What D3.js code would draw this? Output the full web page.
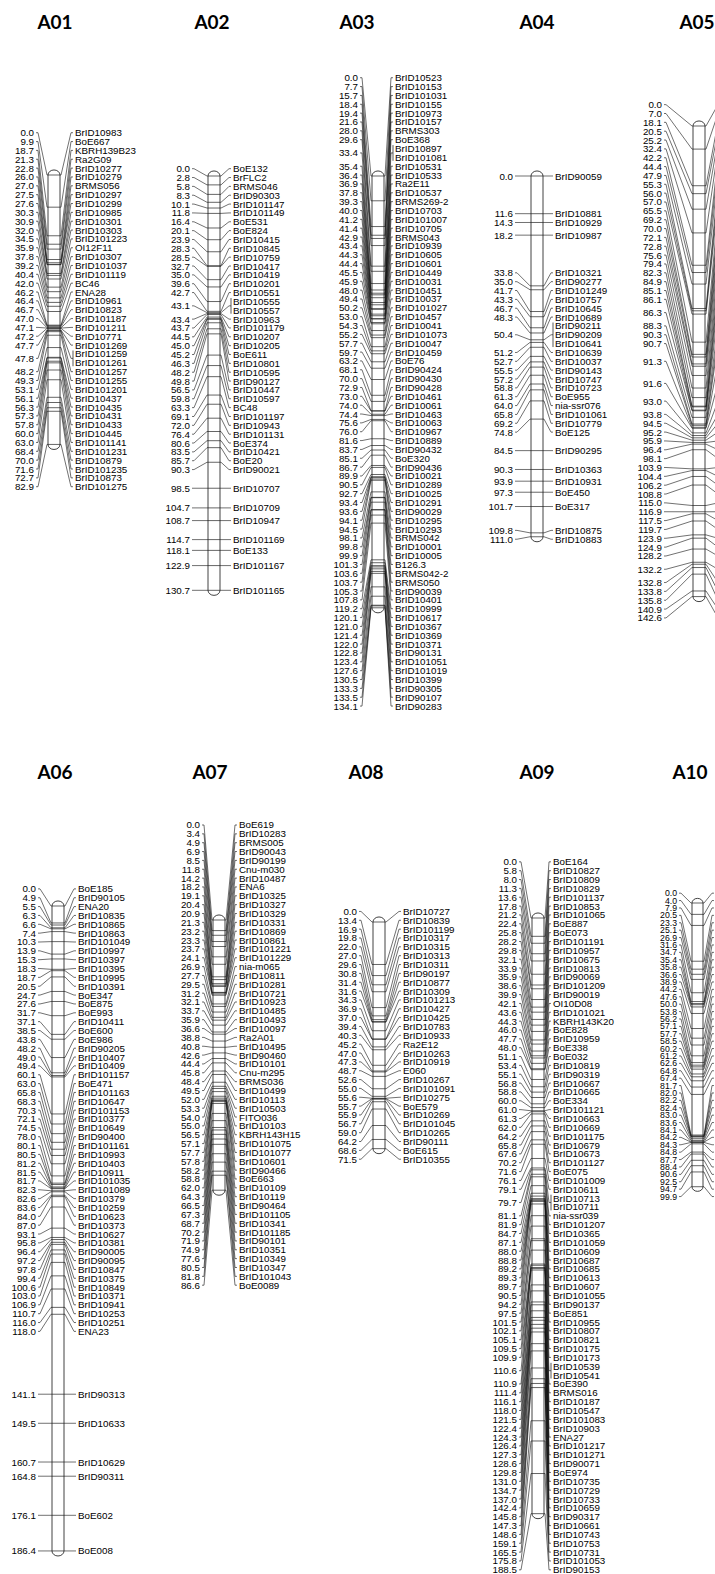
<!DOCTYPE html>
<html>
<head>
<meta charset="utf-8">
<script src="https://cdn.jsdelivr.net/npm/d3@7"></script>
<style>
  body { margin: 0; background: #fff; }
  svg { display: block; }
  text { font-family: "Liberation Sans", Arial, sans-serif; fill: #000; }
  text.title { font-family: Lato, "Open Sans", sans-serif; font-weight: 700; font-size: 19px; fill: #000; }
</style>
</head>
<body>
<svg id="chart" width="715" height="1574"></svg>
<script>
// Linkage map, groups A01-A10. Positions in cM; a repeated position = co-located markers.
const posA01 = [0.0, 9.9, 18.7, 21.3, 22.8, 26.0, 27.0, 27.5, 27.6, 30.3, 30.9, 32.0, 34.5, 35.9, 37.8, 39.2, 40.4, 42.0, 46.2, 46.4, 46.7, 47.0, 47.1, 47.2, 47.7, 47.8, 47.8, 48.2, 49.3, 53.1, 56.1, 56.3, 57.3, 57.8, 60.0, 63.0, 68.4, 70.0, 71.6, 72.7, 82.9];
const mkA01 = ["BrID10983", "BoE667", "KBRH139B23", "Ra2G09", "BrID10277", "BrID10279", "BRMS056", "BrID10297", "BrID10299", "BrID10985", "BrID10301", "BrID10303", "BrID101223", "OI12F11", "BrID10307", "BrID101037", "BrID101119", "BC46", "ENA28", "BrID10961", "BrID10823", "BrID101187", "BrID101211", "BrID10771", "BrID101269", "BrID101259", "BrID101261", "BrID101257", "BrID101255", "BrID101201", "BrID10437", "BrID10435", "BrID10431", "BrID10433", "BrID10445", "BrID101141", "BrID101231", "BrID10879", "BrID101235", "BrID10873", "BrID101275"];

const posA02 = [0.0, 2.8, 5.8, 8.3, 10.1, 11.8, 16.4, 20.1, 23.9, 28.3, 28.5, 32.7, 35.0, 39.6, 42.7, 43.1, 43.1, 43.4, 43.7, 44.5, 45.0, 45.2, 46.3, 48.2, 49.8, 56.5, 59.8, 63.3, 69.1, 72.0, 76.4, 80.6, 83.5, 85.7, 90.3, 98.5, 104.7, 108.7, 114.7, 118.1, 122.9, 130.7];
const mkA02 = ["BoE132", "BrFLC2", "BRMS046", "BrID90303", "BrID101147", "BrID101149", "BoE531", "BoE824", "BrID10415", "BrID10845", "BrID10759", "BrID10417", "BrID10419", "BrID10201", "BrID10551", "BrID10555", "BrID10557", "BrID10963", "BrID101179", "BrID10207", "BrID10205", "BoE611", "BrID10801", "BrID10595", "BrID90127", "BrID10447", "BrID10597", "BC48", "BrID101197", "BrID10943", "BrID101131", "BoE374", "BrID10421", "BoE20", "BrID90021", "BrID10707", "BrID10709", "BrID10947", "BrID101169", "BoE133", "BrID101167", "BrID101165"];

const posA03 = [0.0, 7.7, 15.7, 18.4, 19.4, 21.6, 28.0, 29.6, 33.4, 33.4, 35.4, 36.4, 36.9, 37.8, 39.3, 40.0, 41.2, 41.4, 42.9, 43.4, 44.3, 44.4, 45.5, 45.9, 48.0, 49.4, 50.2, 53.0, 54.3, 55.2, 57.7, 59.7, 63.2, 68.1, 70.0, 72.9, 73.0, 74.0, 74.4, 75.6, 76.0, 81.6, 83.7, 85.1, 86.7, 89.9, 90.5, 92.7, 93.4, 93.6, 94.1, 94.5, 98.1, 99.8, 99.9, 101.3, 103.6, 103.7, 105.3, 107.8, 119.2, 120.1, 121.0, 121.4, 122.0, 122.8, 123.4, 127.6, 130.5, 133.3, 133.5, 134.1];
const mkA03 = ["BrID10523", "BrID10153", "BrID101031", "BrID10155", "BrID10973", "BrID10157", "BRMS303", "BoE368", "BrID10897", "BrID101081", "BrID10531", "BrID10533", "Ra2E11", "BrID10537", "BRMS269-2", "BrID10703", "BrID101007", "BrID10705", "BRMS043", "BrID10939", "BrID10605", "BrID10601", "BrID10449", "BrID10031", "BrID10451", "BrID10037", "BrID101027", "BrID10457", "BrID10041", "BrID101073", "BrID10047", "BrID10459", "BoE76", "BrID90424", "BrID90430", "BrID90428", "BrID10461", "BrID10061", "BrID10463", "BrID10063", "BrID10967", "BrID10889", "BrID90432", "BoE320", "BrID90436", "BrID10021", "BrID10289", "BrID10025", "BrID10291", "BrID90029", "BrID10295", "BrID10293", "BRMS042", "BrID10001", "BrID10005", "B126.3", "BRMS042-2", "BRMS050", "BrID90039", "BrID10401", "BrID10999", "BrID10617", "BrID10367", "BrID10369", "BrID10371", "BrID90131", "BrID101051", "BrID101019", "BrID10399", "BrID90305", "BrID90107", "BrID90283"];

const posA04 = [0.0, 11.6, 14.3, 18.2, 33.8, 35.0, 41.7, 43.3, 46.7, 48.3, 50.4, 50.4, 50.4, 51.2, 52.7, 55.5, 57.2, 58.8, 61.3, 64.0, 65.8, 69.2, 74.8, 84.5, 90.3, 93.9, 97.3, 101.7, 109.8, 111.0];
const mkA04 = ["BrID90059", "BrID10881", "BrID10929", "BrID10987", "BrID10321", "BrID90277", "BrID101249", "BrID10757", "BrID10645", "BrID10689", "BrID90211", "BrID90209", "BrID10641", "BrID10639", "BrID10037", "BrID90143", "BrID10747", "BrID10723", "BoE955", "nia-ssr076", "BrID101061", "BrID10779", "BoE125", "BrID90295", "BrID10363", "BrID10931", "BoE450", "BoE317", "BrID10875", "BrID10883"];

// A05 and A10 marker names fall outside the picture
const posA05 = [0.0, 7.0, 18.1, 20.5, 25.2, 32.4, 42.2, 44.4, 47.9, 55.3, 56.0, 57.0, 65.5, 69.2, 70.0, 72.1, 72.8, 75.6, 79.4, 82.3, 84.9, 85.1, 86.1, 86.3, 86.3, 88.3, 90.3, 90.7, 91.3, 91.3, 91.3, 91.6, 91.6, 93.0, 93.0, 93.8, 94.5, 95.2, 95.9, 96.4, 98.1, 103.9, 104.4, 106.2, 108.8, 115.0, 116.9, 117.5, 119.7, 123.9, 124.9, 128.2, 132.2, 132.2, 132.8, 133.8, 135.8, 140.9, 142.6];

const posA06 = [0.0, 4.9, 5.5, 6.3, 6.6, 7.4, 10.3, 13.9, 15.3, 18.3, 18.7, 20.5, 24.7, 27.6, 31.7, 37.1, 38.5, 43.8, 48.2, 49.0, 49.4, 60.1, 63.0, 65.8, 68.3, 70.3, 72.1, 74.5, 78.0, 80.1, 80.5, 81.2, 81.5, 81.7, 82.3, 82.6, 83.6, 84.0, 87.0, 93.1, 95.8, 96.4, 97.2, 97.8, 99.4, 100.6, 103.0, 106.9, 110.7, 116.0, 118.0, 141.1, 149.5, 160.7, 164.8, 176.1, 186.4];
const mkA06 = ["BoE185", "BrID90105", "ENA20", "BrID10835", "BrID10865", "BrID10863", "BrID101049", "BrID10997", "BrID10397", "BrID10395", "BrID10995", "BrID10391", "BoE347", "BoE875", "BoE993", "BrID10411", "BoE600", "BoE986", "BrID90205", "BrID10407", "BrID10409", "BrID101157", "BoE471", "BrID101163", "BrID10647", "BrID101153", "BrID10377", "BrID10649", "BrID90400", "BrID101161", "BrID10993", "BrID10403", "BrID10911", "BrID101035", "BrID101089", "BrID10379", "BrID10259", "BrID10623", "BrID10373", "BrID10627", "BrID10381", "BrID90005", "BrID90095", "BrID10847", "BrID10375", "BrID10849", "BrID10371", "BrID10941", "BrID10253", "BrID10251", "ENA23", "BrID90313", "BrID10633", "BrID10629", "BrID90311", "BoE602", "BoE008"];

const posA07 = [0.0, 3.4, 4.9, 6.9, 8.5, 11.8, 14.2, 18.2, 19.1, 20.4, 20.9, 21.3, 23.2, 23.3, 23.7, 24.1, 26.9, 27.7, 29.5, 31.2, 32.1, 33.7, 35.9, 36.6, 38.8, 40.8, 42.6, 44.4, 45.8, 48.4, 49.5, 52.0, 53.3, 54.0, 55.0, 56.5, 57.1, 57.7, 57.8, 58.2, 58.8, 62.0, 64.3, 66.5, 67.3, 68.7, 70.2, 71.9, 74.9, 77.6, 80.5, 81.8, 86.6];
const mkA07 = ["BoE619", "BrID10283", "BRMS005", "BrID90043", "BrID90199", "Cnu-m030", "BrID10487", "ENA6", "BrID10325", "BrID10327", "BrID10329", "BrID10331", "BrID10869", "BrID10861", "BrID101221", "BrID101229", "nia-m065", "BrID10811", "BrID10281", "BrID10721", "BrID10923", "BrID10485", "BrID10493", "BrID10097", "Ra2A01", "BrID10495", "BrID90460", "BrID10101", "Cnu-m295", "BRMS036", "BrID10499", "BrID10113", "BrID10503", "FITO036", "BrID10103", "KBRH143H15", "BrID101075", "BrID101077", "BrID10601", "BrID90466", "BoE663", "BrID10109", "BrID10119", "BrID90464", "BrID101105", "BrID10341", "BrID101185", "BrID90101", "BrID10351", "BrID10349", "BrID10347", "BrID101043", "BoE0089"];

const posA08 = [0.0, 13.4, 16.9, 19.8, 22.0, 27.0, 29.6, 30.8, 31.4, 31.6, 34.3, 36.9, 37.0, 39.4, 40.3, 45.2, 47.0, 47.3, 48.7, 52.6, 55.0, 55.6, 55.7, 55.9, 56.7, 59.0, 64.2, 68.6, 71.5];
const mkA08 = ["BrID10727", "BrID10839", "BrID101199", "BrID10317", "BrID10315", "BrID10313", "BrID10311", "BrID90197", "BrID10877", "BrID10309", "BrID101213", "BrID10427", "BrID10425", "BrID10783", "BrID10933", "Ra2E12", "BrID10263", "BrID10919", "E060", "BrID10267", "BrID101091", "BrID10275", "BoE579", "BrID10269", "BrID101045", "BrID10265", "BrID90111", "BoE615", "BrID10355"];

const posA09 = [0.0, 5.8, 8.0, 11.3, 13.6, 17.8, 21.2, 22.4, 25.8, 28.2, 29.8, 32.1, 33.9, 35.9, 38.6, 39.9, 42.1, 43.6, 44.3, 46.0, 47.7, 48.0, 51.1, 53.4, 55.1, 56.8, 58.8, 60.0, 61.0, 61.3, 62.0, 64.2, 65.8, 67.6, 70.2, 71.6, 76.1, 79.1, 79.7, 79.7, 81.1, 81.9, 84.7, 87.1, 88.0, 88.8, 89.2, 89.3, 89.7, 90.5, 94.2, 97.5, 101.5, 102.1, 105.1, 109.5, 109.9, 110.6, 110.6, 110.9, 111.4, 116.1, 118.0, 121.5, 122.4, 124.3, 126.4, 127.3, 128.6, 129.8, 131.0, 134.7, 137.0, 142.4, 145.8, 147.3, 148.6, 159.1, 165.5, 175.8, 188.5];
const mkA09 = ["BoE164", "BrID10827", "BrID10809", "BrID10829", "BrID101137", "BrID10853", "BrID101065", "BoE887", "BoE073", "BrID101191", "BrID10957", "BrID10675", "BrID10813", "BrID90069", "BrID101209", "BrID90019", "OI10D08", "BrID101021", "KBRH143K20", "BoE828", "BrID10959", "BoE338", "BoE032", "BrID10819", "BrID90319", "BrID10667", "BrID10665", "BoE334", "BrID101121", "BrID10663", "BrID10669", "BrID101175", "BrID10679", "BrID10673", "BrID101127", "BoE075", "BrID101009", "BrID10611", "BrID10713", "BrID10711", "nia-ssr039", "BrID101207", "BrID10365", "BrID101059", "BrID10609", "BrID10687", "BrID10685", "BrID10613", "BrID10607", "BrID101055", "BrID90137", "BoE851", "BrID10955", "BrID10807", "BrID10821", "BrID10175", "BrID10173", "BrID10539", "BrID10541", "BoE390", "BRMS016", "BrID10187", "BrID10547", "BrID101083", "BrID10903", "ENA27", "BrID101217", "BrID101271", "BrID90071", "BoE974", "BrID10735", "BrID10729", "BrID10733", "BrID10659", "BrID90317", "BrID10661", "BrID10743", "BrID10753", "BrID10731", "BrID101053", "BrID90153"];

const posA10 = [0.0, 4.0, 7.9, 20.5, 23.3, 25.1, 26.9, 31.6, 34.7, 35.4, 35.8, 36.6, 38.9, 44.2, 47.6, 50.0, 53.8, 56.2, 57.1, 57.7, 58.5, 60.2, 61.2, 62.6, 64.8, 67.4, 81.7, 82.0, 82.2, 82.4, 83.0, 83.6, 84.1, 84.2, 84.3, 84.8, 87.7, 88.4, 90.6, 92.5, 94.7, 99.9];

// layout: bar left edge, right edge of position labels, left edge of names, bar top, px per cM,
// label row height and font size (A10 was pasted in a little smaller)
const TITLE_Y = [21, 771];
const groups = [
  { id: "A01", pos: posA01, names: mkA01, row: 0, titleX: 55,  barX: 48,  barW: 12, labelR: 34,  nameL: 75,  y0: 175, k: 3.25, rowH: 8.85, fs: 9.8 },
  { id: "A02", pos: posA02, names: mkA02, row: 0, titleX: 212, barX: 208, barW: 12, labelR: 190, nameL: 233, y0: 176, k: 3.17, rowH: 8.85, fs: 9.8 },
  { id: "A03", pos: posA03, names: mkA03, row: 0, titleX: 357, barX: 372, barW: 12, labelR: 358, nameL: 395, y0: 176, k: 3.22, rowH: 8.85, fs: 9.8 },
  { id: "A04", pos: posA04, names: mkA04, row: 0, titleX: 537, barX: 531, barW: 12, labelR: 513, nameL: 555, y0: 176, k: 3.25, rowH: 8.85, fs: 9.8 },
  { id: "A05", pos: posA05, names: null,  row: 0, titleX: 697, barX: 693, barW: 12, labelR: 662, nameL: 722, y0: 126, k: 3.30, rowH: 8.85, fs: 9.8 },
  { id: "A06", pos: posA06, names: mkA06, row: 1, titleX: 55,  barX: 52,  barW: 12, labelR: 36,  nameL: 78,  y0: 906, k: 3.46, rowH: 8.85, fs: 9.8 },
  { id: "A07", pos: posA07, names: mkA07, row: 1, titleX: 210, barX: 213, barW: 12, labelR: 200, nameL: 239, y0: 920, k: 3.12, rowH: 8.85, fs: 9.8 },
  { id: "A08", pos: posA08, names: mkA08, row: 1, titleX: 366, barX: 373, barW: 12, labelR: 357, nameL: 403, y0: 922, k: 3.17, rowH: 8.85, fs: 9.8 },
  { id: "A09", pos: posA09, names: mkA09, row: 1, titleX: 537, barX: 532, barW: 12, labelR: 517, nameL: 553, y0: 918, k: 3.16, rowH: 8.85, fs: 9.8 },
  { id: "A10", pos: posA10, names: null,  row: 1, titleX: 690, barX: 692, barW: 11, labelR: 677, nameL: 716, y0: 903, k: 2.84, rowH: 7.4,  fs: 8.7 },
];

const svg = d3.select("#chart");
const fmt = d3.format(".1f");

// push overlapping label rows apart; each merged cluster is centred on the middle of its targets
function spread(blocks, h) {
  let cl = blocks.map((b, i) => ({ a: i, b: i, n: b.n, lo: b.t, hi: b.t }));
  const top = c => (c.lo + c.hi) / 2 - c.n * h / 2;
  let again = true;
  while (again) {
    again = false;
    for (let i = 0; i < cl.length - 1; i++) {
      const p = cl[i], q = cl[i + 1];
      if (top(p) + p.n * h > top(q) + 0.01) {
        cl.splice(i, 2, { a: p.a, b: q.b, n: p.n + q.n, lo: p.lo, hi: q.hi });
        again = true;
        break;
      }
    }
  }
  const tops = [];
  for (const c of cl) {
    let yy = top(c);
    for (let j = c.a; j <= c.b; j++) { tops[j] = yy; yy += blocks[j].n * h; }
  }
  return tops;
}

groups.forEach(g => {
  const h = g.rowH;
  const maxPos = d3.max(g.pos);
  const y = d3.scaleLinear().domain([0, maxPos]).range([g.y0, g.y0 + maxPos * g.k]);
  const items = g.pos.map((p, i) => ({ p, name: g.names ? g.names[i] : null }));
  const blocks = d3.groups(items, d => d.p).map(([p, list]) => ({ p, t: y(p), n: list.length, list }));
  const tops = spread(blocks, h);
  const x0 = g.barX, x1 = g.barX + g.barW;
  const gg = svg.append("g").attr("class", "group").style("font-size", g.fs + "px");

  gg.append("text").attr("class", "title")
    .attr("x", g.titleX).attr("y", TITLE_Y[g.row])
    .attr("text-anchor", "middle").attr("dominant-baseline", "central")
    .text(g.id);

  const yTop = y(0), yBot = y(maxPos);
  const cap = g.barW * 0.42;
  gg.append("path")
    .attr("d", `M${x0},${yTop} A${g.barW / 2},${cap} 0 0 1 ${x1},${yTop} L${x1},${yBot} A${g.barW / 2},${cap} 0 0 1 ${x0},${yBot} Z`)
    .attr("fill", "#fff").attr("stroke", "#111").attr("stroke-width", 0.8);

  const line = d3.line();
  blocks.forEach((b, j) => {
    const yc = tops[j] + b.n * h / 2;
    gg.append("line")
      .attr("x1", x0).attr("x2", x1).attr("y1", b.t).attr("y2", b.t)
      .attr("stroke", "#222").attr("stroke-width", 0.7);
    gg.append("path")
      .attr("d", line([[g.labelR + 2, yc], [g.labelR + 4, yc], [x0 - 1, b.t], [x0, b.t]]))
      .attr("fill", "none").attr("stroke", "#111").attr("stroke-width", 0.6);
    gg.append("text")
      .attr("x", g.labelR).attr("y", yc)
      .attr("text-anchor", "end").attr("dominant-baseline", "central")
      .text(fmt(b.p));
    gg.append("path")
      .attr("d", line([[x1, b.t], [x1 + 1, b.t], [g.nameL - 4, yc], [g.nameL - 2, yc]]))
      .attr("fill", "none").attr("stroke", "#111").attr("stroke-width", 0.6);
    if (b.n > 1) {
      gg.append("line")
        .attr("x1", g.nameL - 2).attr("x2", g.nameL - 2)
        .attr("y1", tops[j] + 1).attr("y2", tops[j] + b.n * h - 1)
        .attr("stroke", "#111").attr("stroke-width", 0.7);
    }
    if (g.names) {
      b.list.forEach((m, r) => {
        gg.append("text")
          .attr("x", g.nameL).attr("y", tops[j] + (r + 0.5) * h)
          .attr("dominant-baseline", "central")
          .text(m.name);
      });
    }
  });
});
</script>
</body>
</html>
